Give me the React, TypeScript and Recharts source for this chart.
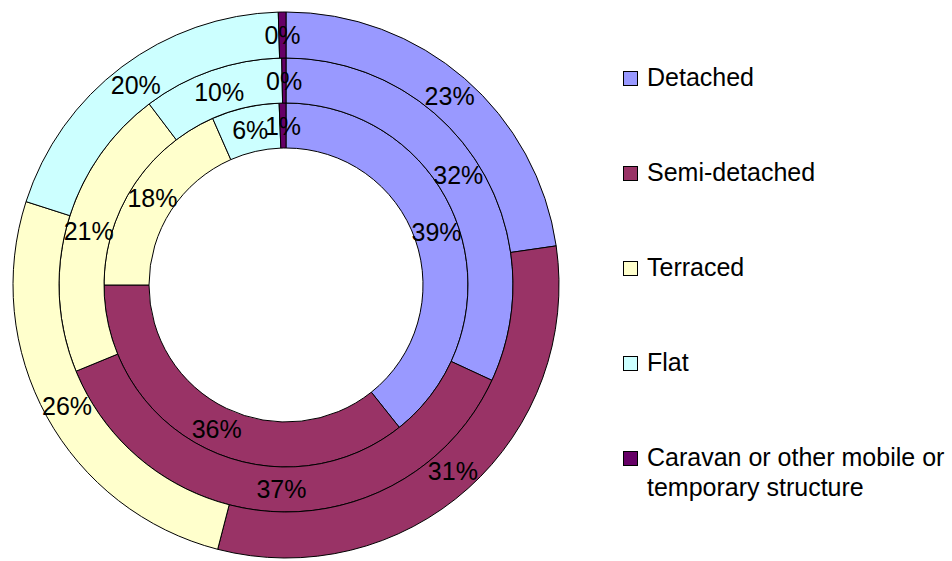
import React from 'react';
import { PieChart, Pie, Cell, Legend } from 'recharts';

const categories = [
  'Detached',
  'Semi-detached',
  'Terraced',
  'Flat',
  'Caravan or other mobile or temporary structure',
];
const colors = ['#9999FF', '#993366', '#FFFFCC', '#CCFFFF', '#660066'];
const innerValues = [39.3, 35.7, 18.4, 6.0, 0.6];
const middleValues = [31.9, 36.9, 20.9, 10.0, 0.3];
const outerValues = [22.7, 31.3, 25.9, 19.6, 0.45];

const FONT = 'Arial, "Liberation Sans", sans-serif';
const RADIAN = Math.PI / 180;

const makeData = (values: number[]) => categories.map((name, i) => ({ name, value: values[i] }));

const renderLabel = (props: any) => {
  const { cx, cy, midAngle, innerRadius, outerRadius, percent } = props;
  const r = (innerRadius + outerRadius) / 2;
  const x = cx + r * Math.cos(-midAngle * RADIAN);
  const y = cy + r * Math.sin(-midAngle * RADIAN);
  return (
    <text x={x} y={y} textAnchor="middle" dominantBaseline="central" fill="#000" fontSize={25} fontFamily={FONT}>
      {`${Math.round(percent * 100)}%`}
    </text>
  );
};

const LegendContent = () => (
  <div style={{ fontFamily: FONT, fontSize: 25, lineHeight: '30px', color: '#000' }}>
    {categories.map((c, i) => (
      <div key={c} style={{ display: 'flex', alignItems: 'flex-start', marginBottom: 65 }}>
        <div
          style={{
            width: 13,
            height: 13,
            marginTop: 9,
            marginRight: 9,
            background: colors[i],
            border: '1px solid #000',
            flexShrink: 0,
          }}
        />
        <div style={{ width: 310 }}>{c}</div>
      </div>
    ))}
  </div>
);

const rings = [
  { values: innerValues, inner: 137, outer: 182 },
  { values: middleValues, inner: 182, outer: 227 },
  { values: outerValues, inner: 227, outer: 273 },
];

export default function App() {
  return (
    <div style={{ position: 'absolute', left: 0, top: 0, width: 952, height: 561, background: '#fff' }}>
      <PieChart width={952} height={561} margin={{ top: 0, right: 0, bottom: 0, left: 0 }}>
        {rings.map((ring, k) => (
          <Pie
            key={k}
            data={makeData(ring.values)}
            dataKey="value"
            nameKey="name"
            cx={286}
            cy={285}
            innerRadius={ring.inner}
            outerRadius={ring.outer}
            startAngle={90}
            endAngle={-270}
            stroke="#000"
            strokeWidth={1}
            label={renderLabel}
            labelLine={false}
            isAnimationActive={false}
          >
            {ring.values.map((_, i) => (
              <Cell key={i} fill={colors[i]} />
            ))}
          </Pie>
        ))}
        <Legend
          layout="vertical"
          align="right"
          verticalAlign="top"
          content={<LegendContent />}
          wrapperStyle={{ left: 623, top: 62, width: 329 }}
        />
      </PieChart>
    </div>
  );
}
